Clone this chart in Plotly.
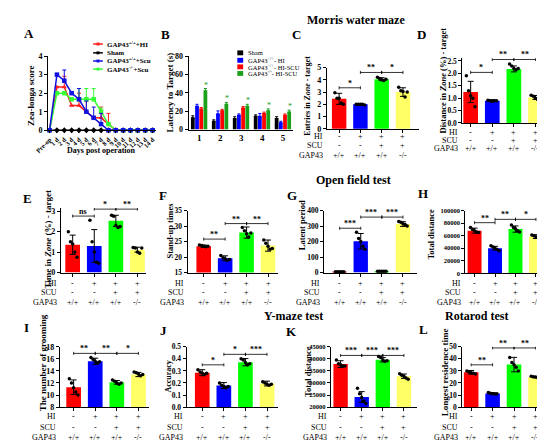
import plotly.graph_objects as go

W, H = 545, 442
FONT = "Liberation Serif"
BAR_COLORS = ["#FF0000", "#0000FF", "#00FF00", "#FFFF66"]

def px(x):
    return x / W

def py(y):
    return 1 - y / H

# ---------------- data ----------------
days = ["Pre-op"] + [f"{d} d" for d in range(1, 15)]
a_sham = [0] * 15
a_hi = [0, 2.33, 2.33, 1.33, 1.33, 1.0, 0.67, 0.67, 0.33, 0, 0, 0, 0, 0, 0]
a_hi_err = [0, 0, 0.58, 0, 0.67, 0.58, 0, 0.58, 0.58, 0, 0, 0, 0, 0, 0]
a_scu = [0, 3.0, 2.67, 2.0, 1.67, 1.0, 0.67, 0.33, 0, 0, 0, 0, 0, 0, 0]
a_scu_err = [0, 0, 0.58, 0, 0.58, 0.58, 0.58, 0.58, 0, 0, 0, 0, 0, 0, 0]
a_ko = [0, 2.0, 2.0, 1.67, 1.67, 1.67, 1.67, 1.0, 0.33, 0, 0, 0, 0, 0, 0]
a_ko_err = [0, 0, 0, 0, 0.58, 0.58, 0.58, 0.2, 0, 0, 0, 0, 0, 0, 0]
a_names = ["GAP43<sup>+/+</sup>+HI", "Sham", "GAP43<sup>+/+</sup>+Scu", "GAP43<sup>-/-</sup>+Scu"]

b_days = [1, 2, 3, 4, 5]
b_sham = [13.5, 9.6, 12.5, 15.0, 12.5]
b_sham_err = [1.5, 1.0, 1.5, 1.0, 1.5]
b_hi = [26.0, 17.8, 16.0, 15.0, 8.0]
b_hi_err = [1.5, 2.5, 1.0, 2.5, 1.0]
b_hiscu = [23.0, 21.0, 24.0, 18.0, 16.0]
b_hiscu_err = [1.0, 1.0, 1.0, 1.0, 1.0]
b_ko = [42.7, 28.0, 26.0, 21.0, 19.6]
b_ko_err = [2.0, 1.5, 1.5, 1.5, 1.5]
b_names = ["Sham", "GAP43<sup>+/+</sup>- HI", "GAP43<sup>+/+</sup>- HI-SCU", "GAP43<sup>-/-</sup>- HI-SCU"]

row_hi = ["-", "+", "+", "+"]
row_scu = ["-", "-", "+", "+"]
row_gap = ["+/+", "+/+", "+/+", "-/-"]

c_mean = [2.45, 2.0, 4.05, 3.0]
c_err = [0.45, 0.05, 0.12, 0.35]
c_dots = [[2.95, 2.5, 2.5, 2.1, 2.0], [2.0, 2.0, 2.0, 2.0, 1.95], [4.2, 4.1, 4.0, 3.95, 4.05], [3.4, 3.1, 3.05, 2.6, 3.0]]
c_sig = [(0, 1, 3.35, "*"), (1, 2, 4.6, "**"), (2, 3, 4.6, "*")]

d_mean = [1.25, 0.9, 2.18, 1.03]
d_err = [0.43, 0.04, 0.12, 0.08]
d_dots = [[1.9, 1.3, 1.1, 1.0, 0.65], [0.92, 0.9, 0.88, 0.9, 0.9], [2.38, 2.3, 2.2, 2.15, 2.2], [1.12, 1.08, 1.0, 0.95, 1.05]]
d_sig = [(0, 1, 2.04, "*"), (1, 2, 2.56, "**"), (2, 3, 2.56, "**")]

e_mean = [1.36, 1.3, 2.53, 1.12]
e_err = [0.47, 0.8, 0.27, 0.12]
e_dots = [[2.0, 1.5, 1.4, 1.0, 0.75], [2.55, 1.5, 1.0, 0.5, 0.45], [2.8, 2.75, 2.3, 2.2, 2.25], [1.22, 1.2, 1.0, 0.95, 1.2]]
e_sig = [(0, 1, 2.76, "ns"), (1, 2, 3.1, "*"), (2, 3, 3.1, "**")]

f_mean = [23.5, 19.6, 27.9, 23.7]
f_err = [0.4, 0.8, 1.8, 1.8]
f_dots = [[23.9, 23.7, 23.5, 23.3, 23.5], [20.5, 19.8, 19.5, 19.0, 19.2], [29.5, 28.5, 27.5, 26.5, 27.8], [25.5, 24.5, 23.5, 22.5, 22.8]]
f_sig = [(0, 1, 25.8, "**"), (1, 2, 30.8, "**"), (2, 3, 30.8, "**")]

g_mean = [5, 202, 8, 313]
g_err = [2, 50, 3, 15]
g_dots = [[5, 5, 5, 5, 5], [260, 220, 200, 170, 150], [8, 8, 8, 8, 8], [330, 325, 315, 310, 300]]
g_sig = [(0, 1, 286, "***"), (1, 2, 358, "***"), (2, 3, 358, "***")]

h_mean = [68000, 40000, 70500, 58500]
h_err = [4000, 3000, 5000, 3000]
h_dots = [[73000, 70000, 68000, 66000, 65000], [44000, 42000, 40000, 38000, 36000], [77000, 73000, 71000, 68000, 66000], [61000, 60000, 58000, 57000, 56000]]
h_sig = [(0, 1, 80700, "**"), (1, 2, 86000, "**"), (2, 3, 86000, "*")]

i_mean = [11.3, 15.6, 12.1, 13.4]
i_err = [1.2, 0.5, 0.3, 0.35]
i_dots = [[12.7, 12.0, 11.2, 10.5, 10.0], [16.2, 15.9, 15.6, 15.3, 15.5], [12.5, 12.3, 12.0, 11.8, 12.0], [13.8, 13.7, 13.5, 13.2, 13.4]]
i_sig = [(0, 1, 16.9, "**"), (1, 2, 16.9, "**"), (2, 3, 16.9, "*")]

j_mean = [0.285, 0.178, 0.372, 0.195]
j_err = [0.025, 0.025, 0.03, 0.02]
j_dots = [[0.31, 0.29, 0.28, 0.27, 0.28], [0.2, 0.18, 0.17, 0.16, 0.17], [0.4, 0.39, 0.37, 0.35, 0.36], [0.21, 0.2, 0.19, 0.18, 0.19]]
j_sig = [(0, 1, 0.35, "*"), (1, 2, 0.437, "*"), (2, 3, 0.437, "***")]

k_mean = [37800, 24200, 39600, 32800]
k_err = [1400, 2200, 900, 900]
k_dots = [[39500, 38000, 37500, 37000, 37000], [27800, 25500, 24000, 22500, 21500], [41000, 40500, 39500, 39000, 39200], [33800, 33200, 32800, 32000, 31500]]
k_sig = [(0, 1, 41400, "***"), (1, 2, 41400, "***"), (2, 3, 41400, "***")]

l_mean = [28.8, 11.2, 35.2, 24.8]
l_err = [1.5, 0.8, 6.0, 0.5]
l_dots = [[30, 29, 28.5, 28, 27.5], [12, 11.5, 11, 10.8, 11], [41, 37, 35, 33, 30], [25.5, 25.2, 25, 24.5, 24.8]]
l_sig = [(0, 1, 35, "**"), (1, 2, 49, "**"), (2, 3, 49, "**")]

# ---------------- figure ----------------
fig = go.Figure()
shapes = []
annots = []

def tick_font(size=8):
    return dict(family=FONT, size=size, color="black", weight="bold")

def add_text(x, y, text, size=8, bold=True, angle=0, xanchor="center", yanchor="middle"):
    annots.append(dict(x=px(x), y=py(y), xref="paper", yref="paper", text=text, showarrow=False,
                       textangle=angle, xanchor=xanchor, yanchor=yanchor,
                       font=dict(family=FONT, size=size, color="black", weight="bold" if bold else "normal")))

DOT_OFFS = [-0.2, -0.1, 0.0, 0.1, 0.2]

def bar_panel(k, xpx0, c0, c3, xpx1, ybot_px, ybot_val, ytop_px, ytop_val, dtick, fmt,
              mean, err, dots, sig, rows_px, tfs=8):
    s = (c3 - c0) / 3.0
    xr = [-(c0 - xpx0) / s, 3 + (xpx1 - c3) / s]
    ppu = (ybot_px - ytop_px) / (ytop_val - ybot_val)
    top_needed = max([h for (_, _, h, _) in sig])
    yext = max(ytop_val, top_needed + 0.02 * (ytop_val - ybot_val))
    toppx = ybot_px - (yext - ybot_val) * ppu
    xa = f"x{k}"
    ya = f"y{k}"
    nt = int(round((ytop_val - ybot_val) / dtick))
    tv = [ybot_val + i * dtick for i in range(nt + 1)]
    fig.update_layout(**{
        f"xaxis{k}": dict(domain=[px(xpx0), px(xpx1)], range=xr, anchor=ya, showline=True, linecolor="black",
                          linewidth=1.2, ticks="outside", ticklen=3, tickwidth=1, tickcolor="black",
                          tickvals=[0, 1, 2, 3], showticklabels=False, showgrid=False, zeroline=False),
        f"yaxis{k}": dict(domain=[py(ybot_px), py(toppx)], range=[ybot_val, yext], anchor=xa, showline=True,
                          linecolor="black", linewidth=1.2, ticks="outside", ticklen=3, tickwidth=1,
                          tickcolor="black", tickvals=tv,
                          ticktext=[format(v, fmt) if fmt else str(v) for v in tv],
                          tickfont=tick_font(tfs), showgrid=False, zeroline=False),
    })
    fig.add_trace(go.Bar(x=[0, 1, 2, 3], y=mean, width=0.68, marker=dict(color=BAR_COLORS, line=dict(width=0)),
                         error_y=dict(type="data", array=err, color="black", thickness=1, width=3),
                         xaxis=xa, yaxis=ya, showlegend=False))
    xs, ys = [], []
    for i, grp in enumerate(dots):
        for j, v in enumerate(grp):
            xs.append(i + DOT_OFFS[j])
            ys.append(v)
    fig.add_trace(go.Scatter(x=xs, y=ys, mode="markers", marker=dict(color="black", size=3.5),
                             xaxis=xa, yaxis=ya, showlegend=False, cliponaxis=False))
    d = 0.025 * (ytop_val - ybot_val)
    for (i, j, h, txt) in sig:
        shapes.append(dict(type="line", xref=xa, yref=ya, x0=i, x1=j, y0=h, y1=h, line=dict(color="black", width=0.8)))
        for xx in (i, j):
            shapes.append(dict(type="line", xref=xa, yref=ya, x0=xx, x1=xx, y0=h - d, y1=h + d,
                               line=dict(color="black", width=0.8)))
        annots.append(dict(x=(i + j) / 2, y=h, xref=xa, yref=ya, text=txt, showarrow=False, yanchor="bottom",
                           yshift=-2, font=dict(family=FONT, size=8, color="black", weight="bold")))
    for lab, row, ypx in zip(["HI", "SCU", "GAP43"], [row_hi, row_scu, row_gap], rows_px):
        add_text(xpx0 - 2, ypx, lab, size=8, bold=False, xanchor="right")
        for i, t in enumerate(row):
            annots.append(dict(x=i, y=py(ypx), xref=xa, yref="paper", text=t, showarrow=False,
                               xanchor="center", yanchor="middle",
                               font=dict(family=FONT, size=8, color="black")))

# ---- Panel A ----
a_x = list(range(15))
a_s = (134 - 28.3) / 14
fig.update_layout(
    xaxis1=dict(domain=[px(27), px(138)], range=[-(28.3 - 27) / a_s, 14 + (138 - 134) / a_s], anchor="y1",
                showline=True, linecolor="black", linewidth=1.2, ticks="outside", ticklen=2, tickcolor="black",
                tickvals=a_x, ticktext=days, tickangle=-45, tickfont=tick_font(6.5), showgrid=False, zeroline=False),
    yaxis1=dict(domain=[py(120.7), py(45)], range=[0, 4], anchor="x1", showline=True, linecolor="black",
                linewidth=1.2, ticks="outside", ticklen=3, tickcolor="black", dtick=1, tickfont=tick_font(8),
                showgrid=False, zeroline=False),
)
a_series = [(a_sham, None, "black", "diamond"), (a_hi, a_hi_err, "#FF2020", "triangle-up"),
            (a_ko, a_ko_err, "#33FF33", "square"), (a_scu, a_scu_err, "#1010E0", "square")]
for ys, er, col, sym in a_series:
    fig.add_trace(go.Scatter(x=a_x, y=ys, mode="lines+markers", line=dict(color=col, width=1.5),
                             marker=dict(color=col, size=4.5, symbol=sym),
                             error_y=(dict(type="data", array=er, arrayminus=[0] * 15, symmetric=False, color=col,
                                           thickness=1, width=2) if er else None),
                             xaxis="x1", yaxis="y1", showlegend=False, cliponaxis=False))
a_leg_cols = ["#FF2020", "black", "#1010E0", "#33FF33"]
for nm, col, ypx in zip(a_names, a_leg_cols, [32.7, 41.7, 50, 58.3]):
    shapes.append(dict(type="line", xref="paper", yref="paper", x0=px(73), x1=px(83), y0=py(ypx), y1=py(ypx),
                       line=dict(color=col, width=1.5)))
    shapes.append(dict(type="rect", xref="paper", yref="paper", x0=px(76.5), x1=px(79.5), y0=py(ypx + 1.5),
                       y1=py(ypx - 1.5), fillcolor=col, line=dict(width=0)))
    add_text(85, ypx, nm, size=7, bold=True, xanchor="left")
add_text(10, 85, "Zea-longa score", size=9, angle=-90)
add_text(82, 141, "Days post operation", size=8)

# ---- Panel B ----
b_s = (268 - 182) / 4
fig.update_layout(
    xaxis2=dict(domain=[px(171), px(278)], range=[1 - (182 - 171) / b_s, 5 + (278 - 268) / b_s], anchor="y2",
                showline=True, linecolor="black", linewidth=1.2, ticks="", tickvals=b_days,
                tickfont=tick_font(9), showgrid=False, zeroline=False),
    yaxis2=dict(domain=[py(120), py(45)], range=[0, 80], anchor="x2", showline=True, linecolor="black",
                linewidth=1.2, ticks="outside", ticklen=3, tickcolor="black", dtick=20, tickfont=tick_font(8),
                showgrid=False, zeroline=False),
)
b_cols = ["black", "#0000FF", "#FF0000", "#1AA01A"]
b_series = [(b_sham, b_sham_err), (b_hi, b_hi_err), (b_hiscu, b_hiscu_err), (b_ko, b_ko_err)]
for n, ((ys, er), col) in enumerate(zip(b_series, b_cols)):
    fig.add_trace(go.Bar(x=b_days, y=ys, width=0.18, offset=-0.4 + 0.2 * n, marker=dict(color=col, line=dict(width=0)),
                         error_y=dict(type="data", array=er, color=col, thickness=1, width=1.5),
                         xaxis="x2", yaxis="y2", showlegend=False))
for d_, v, e in zip(b_days, b_ko, b_ko_err):
    annots.append(dict(x=d_ + 0.31, y=v + e, xref="x2", yref="y2", text="*", showarrow=False, yanchor="bottom",
                       yshift=-3, font=dict(family=FONT, size=8, color="#1AA01A")))
for nm, col, ypx in zip(b_names, b_cols, [41.7, 49.3, 56, 62.7]):
    shapes.append(dict(type="rect", xref="paper", yref="paper", x0=px(221), x1=px(227), y0=py(ypx + 2.5),
                       y1=py(ypx - 2.5), fillcolor=col, line=dict(width=0)))
    add_text(230, ypx, nm, size=6.5, bold=False, xanchor="left")
add_text(152, 82, "Latency to Target (s)", size=9, angle=-90)

# ---- bar panels ----
bar_panel(3, 313, 325.5, 391, 407, 119.3, 0, 56.7, 5, 1, "", c_mean, c_err, c_dots, c_sig, [127.3, 136.5, 146.7])
bar_panel(4, 452, 460.5, 527, 538, 113.3, 0, 50, 2.5, 0.5, ".1f", d_mean, d_err, d_dots, d_sig, [122.7, 131, 139],
          tfs=7.5)
bar_panel(5, 40, 52, 118.5, 127, 266, 0, 203.3, 3, 1, "", e_mean, e_err, e_dots, e_sig, [276.7, 286, 296.5])
bar_panel(6, 170, 186.5, 252.5, 263, 266, 15, 202.7, 35, 5, "", f_mean, f_err, f_dots, f_sig, [276.7, 286, 296.5],
          tfs=7.5)
bar_panel(7, 310, 326, 391, 405, 266, 0, 202.7, 400, 100, "", g_mean, g_err, g_dots, g_sig, [276.7, 286, 296.5],
          tfs=7.5)
bar_panel(8, 455, 464.5, 527.5, 538, 266.7, 0, 202.7, 100000, 20000, "", h_mean, h_err, h_dots, h_sig,
          [276.7, 286, 296.5], tfs=6.5)
bar_panel(9, 39, 53, 119.5, 130, 403.3, 8, 341.7, 18, 2, "", i_mean, i_err, i_dots, i_sig, [413, 424, 434.5])
bar_panel(10, 169, 185, 251.5, 263, 403.3, 0, 341.7, 0.5, 0.1, ".1f", j_mean, j_err, j_dots, j_sig, [413, 424, 434.5],
          tfs=7.5)
bar_panel(11, 317, 327, 392, 405, 403.3, 20000, 341.7, 45000, 5000, "", k_mean, k_err, k_dots, k_sig,
          [413, 424, 434.5], tfs=6.5)
bar_panel(12, 452, 461, 527, 538, 403.3, 0, 341.7, 50, 10, "", l_mean, l_err, l_dots, l_sig, [413, 424, 434.5],
          tfs=7.5)

# y titles
add_text(293, 85, "Entries in <i>Zone</i> - target", size=8, angle=-90)
add_text(432, 70, "Distance in <i>Zone</i> (%) - target", size=8.5, angle=-90)
add_text(27, 232, "Time in <i>Zone</i> (%) - target", size=9, angle=-90)
add_text(152, 223, "Stand-up times", size=8.5, angle=-90)
add_text(287, 218, "Latent period", size=8.5, angle=-90)
add_text(420, 227, "Total distance", size=8.5, angle=-90)
add_text(21, 358, "The number of grooming", size=9, angle=-90)
add_text(150, 372, "Accuracy", size=8, angle=-90)
add_text(293, 367, "Total distance", size=8.5, angle=-90)
add_text(434, 368, "Longest residence time", size=9, angle=-90)

# panel labels
for lab, (x, y) in zip("ABCDEFGHIJKL", [(7, 22), (147, 23), (282, 23), (410, 23), (6, 190), (145, 187),
                                         (277, 187), (412, 185), (5, 322), (145, 325), (277, 326), (412, 324)]):
    add_text(x, y, lab, size=13)

# section titles
add_text(343, 8, "Morris water maze", size=12)
add_text(340, 172, "Open field test", size=12)
add_text(279, 310, "Y-maze test", size=12)
add_text(466, 310, "Rotarod test", size=12)

fig.update_layout(width=W, height=H, margin=dict(l=0, r=0, t=0, b=0), plot_bgcolor="white",
                  paper_bgcolor="white", showlegend=False, shapes=shapes, annotations=annots,
                  barmode="overlay")
fig.write_html("out.html")
